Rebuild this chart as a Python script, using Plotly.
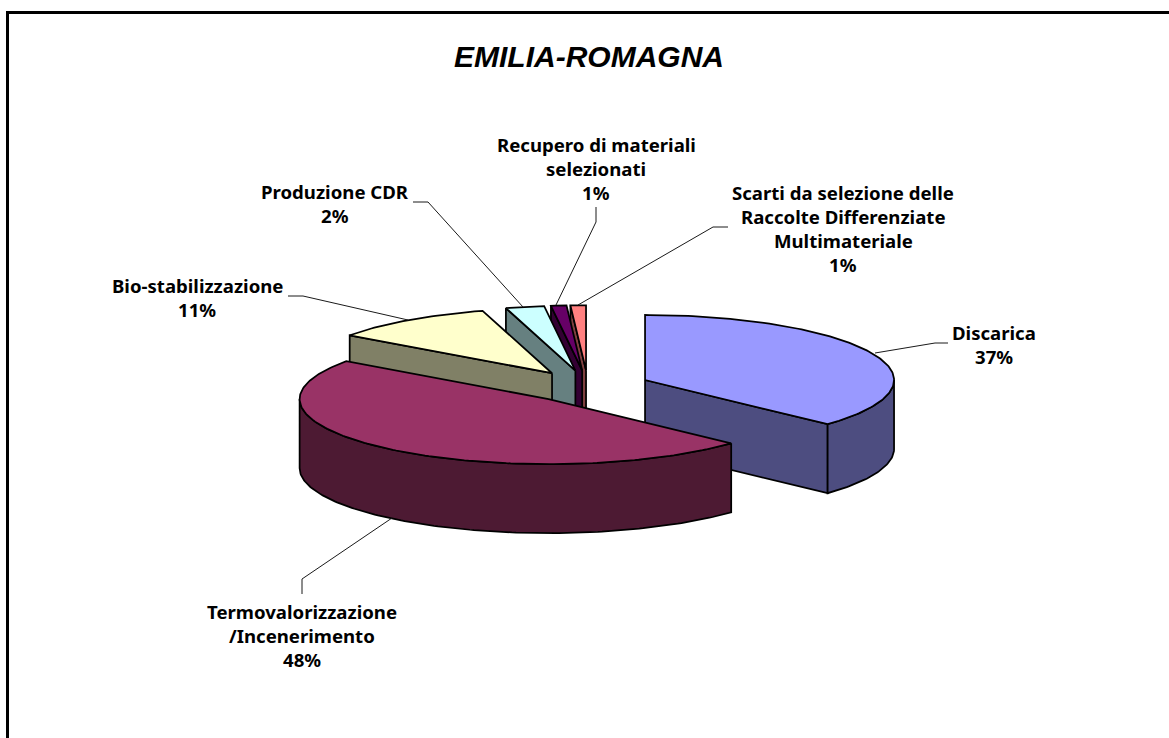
"""3D exploded pie of waste treatment shares, Emilia-Romagna."""

import numpy as np
import plotly.graph_objects as go

CATEGORIES = [
    "Discarica",
    "Termovalorizzazione /Incenerimento",
    "Bio-stabilizzazione",
    "Produzione CDR",
    "Recupero di materiali selezionati",
    "Scarti da selezione delle Raccolte Differenziate Multimateriale",
]
VALUES = [36.9, 48.0, 10.6, 2.5, 1.0, 1.0]
PERCENT_LABELS = ["37%", "48%", "11%", "2%", "1%", "1%"]
LABEL_LINES = [
    ["Discarica"],
    ["Termovalorizzazione", "/Incenerimento"],
    ["Bio-stabilizzazione"],
    ["Produzione CDR"],
    ["Recupero di materiali", "selezionati"],
    ["Scarti da selezione delle", "Raccolte Differenziate", "Multimateriale"],
]

# styles and page geometry (axes run in page pixels)
TOP_COLORS = ["#9999FF", "#993366", "#FFFFCC", "#CCFFFF", "#660066", "#FF8080"]
SIDE_COLORS = ["#4D4D80", "#4D1A33", "#808066", "#668080", "#330033", "#804040"]
CX, CY = 588, 386.5
RX, RY = 249, 65
DEPTH = 69
EXPLODE = 0.25
FONT = "Noto Sans"
LABEL_POS = [(994, 332), (302, 611), (197, 285), (335, 191), (596, 144), (843, 192)]
LINE_STEP = 24
LEADERS = [
    [(948, 343), (935, 343), (875, 353)],
    [(302, 594), (302, 579), (392, 518)],
    [(288, 296), (303, 296), (408, 320)],
    [(413, 202), (428, 202), (523, 307)],
    [(596, 207), (596, 222), (556, 305)],
    [(728, 227), (713, 227), (578, 305)],
]


def rim(tip, a0, a1):
    """Points on the ellipse between two clockwise-from-top angles (degrees)."""
    n = max(2, int(abs(a1 - a0)) + 2)
    t = np.radians(np.linspace(a0, a1, n))
    return tip[0] + RX * np.sin(t), tip[1] - RY * np.cos(t)


def add_poly(fig, xs, ys, color):
    fig.add_trace(go.Scatter(
        x=list(xs) + [xs[0]],
        y=list(ys) + [ys[0]],
        mode="lines",
        fill="toself",
        fillcolor=color,
        line=dict(color="#000000", width=1.75),
        hoverinfo="skip",
        showlegend=False,
    ))


def edge_face(fig, tip, angle, color):
    x, y = rim(tip, angle, angle)
    xs = [tip[0], x[0], x[0], tip[0]]
    ys = [tip[1], y[0], y[0] + DEPTH, tip[1] + DEPTH]
    add_poly(fig, xs, ys, color)


fig = go.Figure()

edges = np.cumsum([0] + VALUES) / sum(VALUES) * 360
wedges = []
for i, value in enumerate(VALUES):
    a0, a1 = edges[i], edges[i + 1]
    mid = np.radians((a0 + a1) / 2)
    tip = (CX + EXPLODE * RX * np.sin(mid), CY - EXPLODE * RY * np.cos(mid))
    wedges.append((tip[1], i, tip, a0, a1))

# back to front
for _, i, tip, a0, a1 in sorted(wedges, key=lambda w: w[0]):
    side = SIDE_COLORS[i]
    if 180 < a0 < 360:
        edge_face(fig, tip, a0, side)
    if 0 < a1 < 180:
        edge_face(fig, tip, a1, side)
    lo, hi = max(a0, 90), min(a1, 270)
    if lo < hi:
        x, y = rim(tip, lo, hi)
        add_poly(fig, np.r_[x, x[::-1]], np.r_[y, y[::-1] + DEPTH], side)
    x, y = rim(tip, a0, a1)
    add_poly(fig, np.r_[tip[0], x], np.r_[tip[1], y], TOP_COLORS[i])

for pts in LEADERS:
    fig.add_trace(go.Scatter(
        x=[p[0] for p in pts],
        y=[p[1] for p in pts],
        mode="lines",
        line=dict(color="#1a1a1a", width=1),
        hoverinfo="skip",
        showlegend=False,
    ))

for lines, pct, (lx, ly) in zip(LABEL_LINES, PERCENT_LABELS, LABEL_POS):
    for k, text in enumerate(lines + [pct]):
        fig.add_annotation(
            x=lx, y=ly + k * LINE_STEP,
            text=f"<b>{text}</b>",
            showarrow=False,
            xanchor="center", yanchor="middle",
            font=dict(family=FONT, size=18.6, color="#000000"),
        )

fig.add_annotation(
    x=589, y=56,
    text="<b><i>EMILIA-ROMAGNA</i></b>",
    showarrow=False,
    xanchor="center", yanchor="middle",
    font=dict(family="Liberation Sans", size=30, color="#000000"),
)

# chart area frame, cut off by the page on the right and at the bottom
fig.add_shape(type="line", x0=7.5, x1=7.5, y0=11, y1=738,
              line=dict(color="#000000", width=3))
fig.add_shape(type="line", x0=6, x1=1169, y0=12.5, y1=12.5,
              line=dict(color="#000000", width=3))

fig.update_layout(
    width=1169,
    height=738,
    margin=dict(l=0, r=0, t=0, b=0),
    paper_bgcolor="#FFFFFF",
    plot_bgcolor="#FFFFFF",
    showlegend=False,
    xaxis=dict(visible=False, range=[0, 1169], fixedrange=True),
    yaxis=dict(visible=False, range=[738, 0], fixedrange=True),
)

fig.write_html(
    "out.html",
    config={"displayModeBar": False},
    post_script="document.body.style.margin='0';document.body.style.overflow='hidden';",
)
